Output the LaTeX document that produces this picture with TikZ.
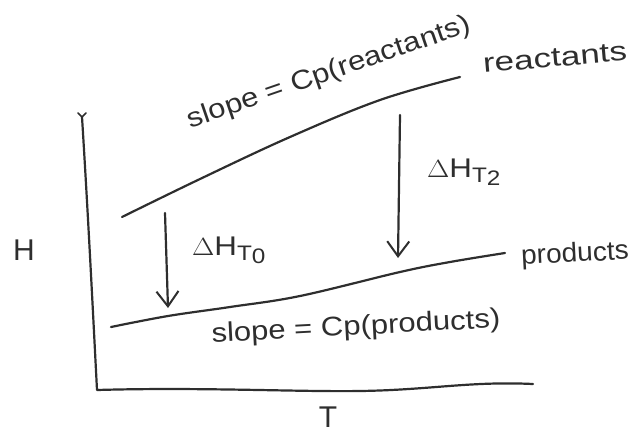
\documentclass[tikz,border=0pt]{standalone}
\usepackage{fontspec}
\setmainfont{Liberation Sans}
\usetikzlibrary{arrows.meta}
\definecolor{ink}{HTML}{2E2E2E}
\tikzset{
  pen/.style={draw=ink, line width=2.2pt, line cap=round, line join=round},
  arr/.style={pen, -{Straight Barb[length=15pt,width=22pt,line width=2pt]}},
  hand/.style={text=ink, inner sep=0pt, font=\fontsize{27}{30}\selectfont},
  big/.style={text=ink, inner sep=0pt, font=\fontsize{30}{34}\selectfont},
}
\newcommand{\dHT}[1]{$\Delta$H\raisebox{-5pt}{\fontsize{21}{22}\selectfont T\raisebox{-3pt}{#1}}}
\newcommand{\wide}[2]{\scalebox{#1}[1]{#2}}
\begin{document}
\begin{tikzpicture}[x=1pt,y=-1pt]
\useasboundingbox (0,0) rectangle (628,436);
% axes
\coordinate (ytop) at (82,117);
\coordinate (orig) at (97,390);
\coordinate (xend) at (533,384);
\draw[pen] (ytop) .. controls (88,213) and (93,313) .. (orig)
  .. controls (200,387) and (300,392) .. (360,391)
  .. controls (430,390) and (470,381) .. (xend);
\draw[pen, line width=1.6pt] (78,113) -- (ytop) -- (86,113);
\node[big] (H) at (24,250) {H};
\node[big] (T) at (328,417) {T};
% reactants line
\coordinate (r0) at (122,217);
\coordinate (r1) at (460,77);
\draw[pen] plot[smooth, tension=0.6] coordinates {(r0) (200,179) (290,137) (380,100) (r1)};
% products line
\coordinate (p0) at (111,327);
\coordinate (p1) at (505,253);
\draw[pen] plot[smooth, tension=0.6] coordinates {(p0) (168,316) (230,307) (300,296) (400,272) (450,262) (p1)};
% arrows
\coordinate (a1s) at (165,213);
\coordinate (a1e) at (168,308);
\coordinate (a2s) at (400,115);
\coordinate (a2e) at (398,258);
\draw[arr] (a1s) -- (a1e);
\draw[arr] (a2s) -- (a2e);
% labels
\node[hand, rotate=19] (sr) at (329,73) {\wide{1.15}{slope = Cp(reactants)}};
\node[hand, rotate=5] (rl) at (555,58) {\wide{1.3}{reactants}};
\node[hand, rotate=3] (pl) at (575,255) {\wide{1.04}{products}};
\node[hand, rotate=3] (sp) at (356,328) {\wide{1.15}{slope = Cp(products)}};
\node[hand, anchor=west] (d1) at (192,250) {\wide{1.16}{\dHT{0}}};
\node[hand, anchor=west] (d2) at (427,172) {\wide{1.16}{\dHT{2}}};
\end{tikzpicture}
\end{document}
